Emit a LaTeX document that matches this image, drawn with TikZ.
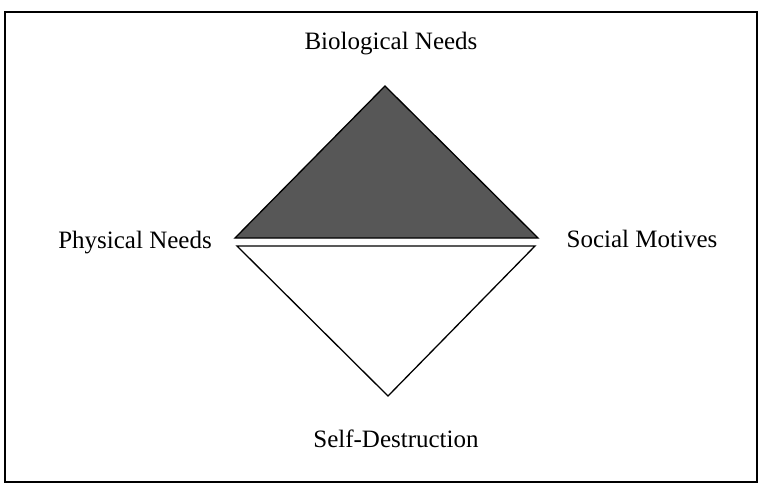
\documentclass[tikz,border=0pt]{standalone}
\usepackage{fontspec}
\setmainfont{Liberation Serif}
\begin{document}
\begin{tikzpicture}[x=1pt,y=-1pt,
  lbl/.style={anchor=base,inner sep=0pt,font=\fontsize{25}{30}\selectfont},
  frameline/.style={draw=black,line width=1.6pt}]
\useasboundingbox (0,0) rectangle (759,490);
\fill[white] (0,0) rectangle (759,490);
\draw[frameline] (5,12) rectangle (757,482);
% upper triangle
\coordinate (ua) at (385,86);
\coordinate (ul) at (235,238);
\coordinate (ur) at (538,238);
\filldraw[fill=black!66,draw=black,line width=1.3pt,line join=miter] (ua) -- (ul) -- (ur) -- cycle;
% lower triangle
\coordinate (ll) at (237,246);
\coordinate (lr) at (535,246);
\coordinate (lb) at (388,396);
\draw[black,line width=1.3pt,line join=miter] (ll) -- (lr) -- (lb) -- cycle;
% labels
\node[lbl] (bio) at (391,49) {Biological Needs};
\node[lbl] (phys) at (135,248) {Physical Needs};
\node[lbl] (soc) at (642,247) {Social Motives};
\node[lbl] (self) at (396,447) {Self-Destruction};
\end{tikzpicture}
\end{document}
